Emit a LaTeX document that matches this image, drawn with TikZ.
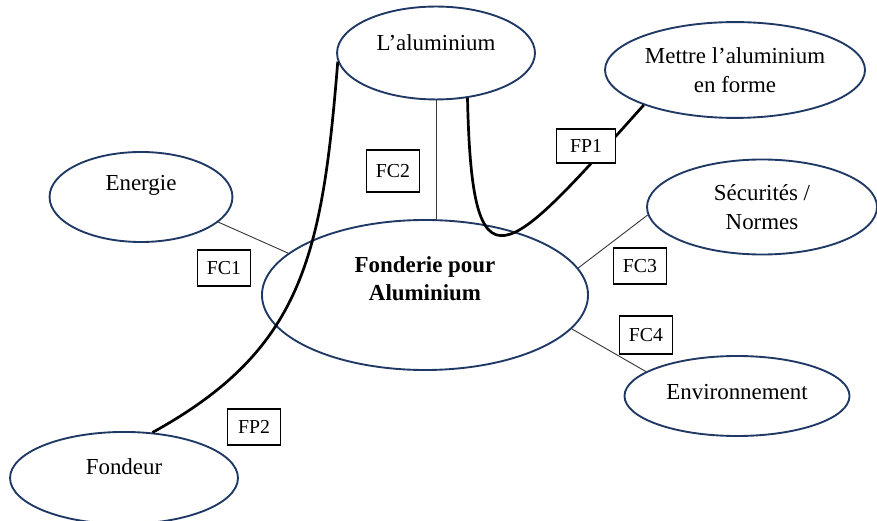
\documentclass[tikz,border=0pt]{standalone}
\usepackage{fontspec}
\setmainfont{Liberation Serif}
\usetikzlibrary{shapes.geometric}
\definecolor{bleunuit}{HTML}{1F3864}
\definecolor{grisfil}{HTML}{3C3C3C}
\begin{document}
\begin{tikzpicture}[
  x=0.48pt, y=-0.48pt,
  bulle/.style={
    ellipse, draw=bleunuit, line width=0.9pt,
    inner sep=0pt, align=center,
    font=\fontsize{11}{14}\selectfont
  },
  etiq/.style={
    rectangle, draw=black, fill=white, line width=0.8pt,
    font=\fontsize{9.5}{11}\selectfont, inner sep=1pt,
    minimum width=25.5pt, minimum height=17pt
  },
  fil/.style={draw=grisfil, line width=0.45pt},
  trait/.style={draw=black, line width=1.3pt}
]
  \useasboundingbox (0,0) rectangle (877,521);
  % les elements du milieu exterieur
  \node[bulle, minimum width=95pt, minimum height=44.6pt, text depth=9.6pt] (alu) at (436,53) {L’aluminium};
  \node[bulle, minimum width=124.8pt, minimum height=46pt] (mettre) at (735,70) {Mettre l’aluminium\\en forme};
  \node[bulle, minimum width=87.8pt, minimum height=43.2pt, text depth=14pt] (energie) at (141,197) {Energie};
  \node[bulle, minimum width=110.4pt, minimum height=45.6pt] (securite) at (762,207) {Sécurités /\\Normes};
  \node[bulle, minimum width=156.5pt, minimum height=72pt, text depth=15.4pt, font=\fontsize{11}{13.5}\selectfont\bfseries] (fonderie) at (425,295) {Fonderie pour\\Aluminium};
  \node[bulle, minimum width=108pt, minimum height=38.4pt, text depth=4pt] (environ) at (737,396) {Environnement};
  \node[bulle, minimum width=109.4pt, minimum height=44.2pt, text depth=10.6pt] (fondeur) at (124,478) {Fondeur};
  % fonctions contraintes
  \foreach \a/\b in {energie.342/fonderie.163,securite.184/fonderie.10,fonderie.347/environ.165}
    \draw[fil] (\a)--(\b);
  \draw[fil] (alu.south) -- (alu.south |- fonderie.north);
  % fonctions principales
  \draw[trait] (fondeur.58) .. controls (302,350) and (322,258) .. (alu.185);
  \draw[trait] (alu.305) .. controls (472,300) and (505,260) .. (mettre.201);
  % etiquettes
  \node[etiq] (fc1) at (224,268) {FC1};
  \node[etiq, minimum height=20pt] (fc2) at (393,171) {FC2};
  \node[etiq, minimum width=28.3pt, minimum height=16.3pt] (fp1) at (586,146) {FP1};
  \node[etiq] (fc3) at (640,266) {FC3};
  \node[etiq, minimum height=18pt] (fc4) at (646,335) {FC4};
  \node[etiq] (fp2) at (254,427) {FP2};
\end{tikzpicture}
\end{document}
